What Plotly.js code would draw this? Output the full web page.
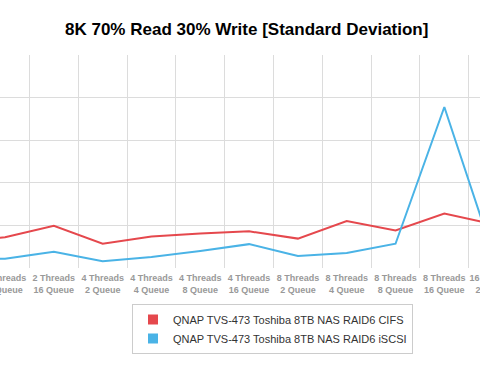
<!DOCTYPE html>
<html>
<head>
<meta charset="utf-8">
<script src="https://cdn.plot.ly/plotly-3.0.1.min.js"></script>
<style>
html,body{margin:0;padding:0;overflow:hidden;width:480px;height:372px;background:#fff;}
#chart{position:absolute;left:-137px;top:0;width:821px;height:372px;}
</style>
</head>
<body>
<div id="chart"></div>
<script>
var categories = [
  "2 Threads<br>2 Queue","2 Threads<br>4 Queue","2 Threads<br>8 Queue","2 Threads<br>16 Queue",
  "4 Threads<br>2 Queue","4 Threads<br>4 Queue","4 Threads<br>8 Queue","4 Threads<br>16 Queue",
  "8 Threads<br>2 Queue","8 Threads<br>4 Queue","8 Threads<br>8 Queue","8 Threads<br>16 Queue",
  "16 Threads<br>2 Queue","16 Threads<br>4 Queue","16 Threads<br>8 Queue","16 Threads<br>16 Queue"
];
var cifsName = "QNAP TVS-473 Toshiba 8TB NAS RAID6 CIFS";
var iscsiName = "QNAP TVS-473 Toshiba 8TB NAS RAID6 iSCSI";
var cifsValues  = [0.55, 0.60, 0.72, 0.99, 0.57, 0.74, 0.81, 0.86, 0.69, 1.10, 0.88, 1.28, 1.03, 1.10, 1.15, 1.20];
var iscsiValues = [0.18, 0.20, 0.22, 0.38, 0.16, 0.26, 0.40, 0.56, 0.28, 0.35, 0.57, 3.78, 0.32, 0.40, 0.45, 0.50];
var yTicks = [1, 2, 3, 4, 5];

var red = "#e5484d", blue = "#4ab3e6";
var traces = [
  {type:"scatter", mode:"lines", x:categories, y:cifsValues, name:cifsName, showlegend:false,
   line:{color:red, width:2}, hoverinfo:"skip"},
  {type:"scatter", mode:"lines", x:categories, y:iscsiValues, name:iscsiName, showlegend:false,
   line:{color:blue, width:2}, hoverinfo:"skip"},
  {type:"scatter", mode:"markers", x:[categories[0]], y:[null], name:cifsName, showlegend:true,
   marker:{symbol:"square", size:10, color:red}},
  {type:"scatter", mode:"markers", x:[categories[0]], y:[null], name:iscsiName, showlegend:true,
   marker:{symbol:"square", size:10, color:blue}}
];
var layout = {
  width:821, height:372,
  margin:{l:20, r:20, t:55, b:104},
  paper_bgcolor:"#fff", plot_bgcolor:"#fff",
  font:{family:"Liberation Sans, Arial, Helvetica, sans-serif"},
  title:{text:"8K 70% Read 30% Write [Standard Deviation]",
         font:{size:17, color:"#000", weight:"bold"},
         xref:"paper", x:0.4657, xanchor:"center",
         yref:"container", y:0.921, yanchor:"middle"},
  xaxis:{type:"category", range:[-0.5, 15.5], tickson:"boundaries", ticks:"", tickangle:0,
         ticklabelstandoff:3,
         showgrid:true, gridcolor:"#dcdcdc", gridwidth:1, showline:false, zeroline:false,
         tickfont:{size:9, color:"#999", weight:"bold"}, fixedrange:true},
  yaxis:{range:[0, 5], tickvals:yTicks, showticklabels:false, showgrid:true,
         gridcolor:"#dcdcdc", gridwidth:1, zeroline:false, showline:false, fixedrange:true},
  showlegend:true,
  legend:{x:0.3188, xanchor:"left", y:-0.169, yanchor:"top", orientation:"v",
          bordercolor:"#cccccc", borderwidth:1, bgcolor:"#fff",
          font:{size:11, color:"#333"}}
};
Plotly.newPlot("chart", traces, layout, {staticPlot:true, displayModeBar:false});
</script>
</body>
</html>
